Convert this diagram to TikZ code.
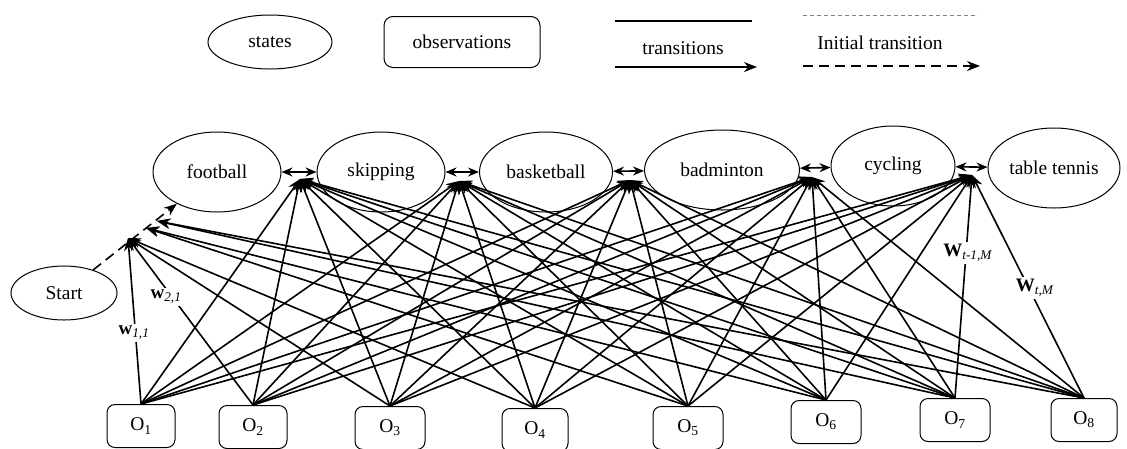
\documentclass[tikz,border=0pt]{standalone}
\usepackage{fontspec}
\setmainfont{Liberation Serif}
\usetikzlibrary{arrows.meta,shapes.geometric}
\begin{document}
\begin{tikzpicture}[x=1pt,y=-1pt,
  every node/.style={font=\fontsize{19.5}{22}\selectfont},
  stt/.style={draw, ellipse, line width=1pt, inner sep=0pt},
  obs/.style={draw, rounded corners=8pt, line width=1pt, minimum width=68pt, minimum height=43pt, inner sep=0pt},
  tr/.style={line width=1.6pt, -{Stealth[length=13pt,width=10pt]}},
  dbl/.style={line width=1.6pt, {Stealth[length=11pt,width=9pt]}-{Stealth[length=11pt,width=9pt]}},
  init/.style={line width=1.6pt, dash pattern=on 10pt off 6pt, -{Stealth[length=13pt,width=10pt]}},
  wlab/.style={fill=white, inner sep=2pt, font=\fontsize{19}{22}\selectfont}]
\useasboundingbox (0,0) rectangle (1127,448);

% legend
\node[stt, minimum width=124pt, minimum height=54pt] (lstates) at (270,42) {states};
\node[draw, rounded corners=9pt, line width=1pt, minimum width=156pt, minimum height=51pt, inner sep=0pt] (lobs) at (462,42) {observations};
\coordinate (lt1) at (615,21); \coordinate (lt2) at (752,21);
\draw[line width=1.6pt] (lt1) -- (lt2);
\node (ltxt) at (683,48) {transitions};
\coordinate (la1) at (615,67); \coordinate (la2) at (757,67);
\draw[tr] (la1) -- (la2);
\coordinate (li1) at (803,15); \coordinate (li2) at (978,15);
\draw[line width=1pt, gray, dash pattern=on 4pt off 3pt] (li1) -- (li2);
\node (litxt) at (880,43) {Initial transition};
\coordinate (lj1) at (803,66); \coordinate (lj2) at (980,66);
\draw[init] (lj1) -- (lj2);

% states
\node[stt, minimum width=128pt, minimum height=80pt] (football) at (217,172) {football};
\node[stt, minimum width=128pt, minimum height=80pt] (skipping) at (381,172) {skipping};
\node[stt, minimum width=133pt, minimum height=80pt] (basketball) at (546,172) {basketball};
\node[stt, minimum width=155pt, minimum height=80pt] (badminton) at (722,170) {badminton};
\node[stt, minimum width=124pt, minimum height=80pt] (cycling) at (893,166) {cycling};
\node[stt, minimum width=132pt, minimum height=80pt] (tabletennis) at (1054,168) {table tennis};
\node[stt, minimum width=106pt, minimum height=54pt] (Start) at (64,293) {Start};

\draw[dbl] (football) -- (skipping);
\draw[dbl] (skipping) -- (basketball);
\draw[dbl] (basketball) -- (badminton);
\draw[dbl] (badminton) -- (cycling);
\draw[dbl] (cycling) -- (tabletennis);
\draw[init] (Start) -- (football);

% hubs
\coordinate (H0a) at (128,238);
\coordinate (H0b) at (146,228);
\coordinate (H0c) at (157,221);
\coordinate (H1) at (300,179);
\coordinate (H2) at (459,181);
\coordinate (H3) at (630,180);
\coordinate (H4) at (812,177);
\coordinate (H5) at (972,175);

% observations
\node[obs] (O1) at (141,426) {O\textsubscript{1}};
\node[obs] (O2) at (253,427) {O\textsubscript{2}};
\node[obs, minimum width=70pt] (O3) at (390,428) {O\textsubscript{3}};
\node[obs, minimum width=66pt] (O4) at (535,430) {O\textsubscript{4}};
\node[obs, minimum width=70pt] (O5) at (688,428) {O\textsubscript{5}};
\node[obs, minimum width=70pt] (O6) at (826,422) {O\textsubscript{6}};
\node[obs, minimum width=70pt] (O7) at (955,420) {O\textsubscript{7}};
\node[obs, minimum width=66pt] (O8) at (1084,420) {O\textsubscript{8}};

% connectors
\foreach \o in {1,...,8} {
  \foreach \h in {1,...,5} { \draw[tr] (O\o.north) -- (H\h); }
}
\foreach \o in {1,2,3,4} { \draw[tr] (O\o.north) -- (H0a); }
\foreach \o in {5,6} { \draw[tr] (O\o.north) -- (H0b); }
\foreach \o in {7,8} { \draw[tr] (O\o.north) -- (H0c); }

% weight labels
\node[wlab] (w11) at (134,333) {\textbf{w}\textsubscript{\textit{1,1}}};
\node[wlab] (w21) at (166,297) {\textbf{w}\textsubscript{\textit{2,1}}};
\node[wlab] (wt1) at (968,253) {\textbf{W}\textsubscript{\textit{t-1,M}}};
\node[wlab] (wtm) at (1035,288) {\textbf{W}\textsubscript{\textit{t,M}}};
\end{tikzpicture}
\end{document}
